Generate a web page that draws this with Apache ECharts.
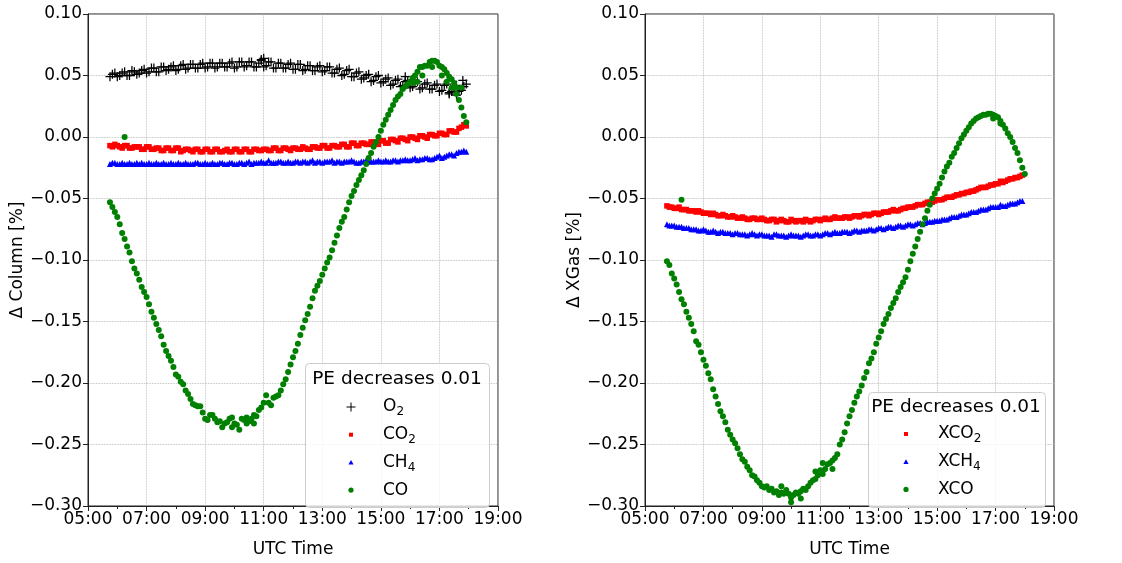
<!DOCTYPE html>
<html><head><meta charset="utf-8">
<script src="https://cdn.jsdelivr.net/npm/echarts@6/dist/echarts.min.js"></script>
<style>html,body{margin:0;padding:0;background:#fff}#c{width:1122px;height:563px}</style>
</head><body><div id="c"></div>
<script>
// sample times (UTC), set A: hh:45, hh:55, ... every 10 min
const timesA = [
 '05:45','05:55','06:05','06:15','06:25','06:35',
 '06:45','06:55','07:05','07:15','07:25','07:35',
 '07:45','07:55','08:05','08:15','08:25','08:35',
 '08:45','08:55','09:05','09:15','09:25','09:35',
 '09:45','09:55','10:05','10:15','10:25','10:35',
 '10:45','10:55','11:05','11:15','11:25','11:35',
 '11:45','11:55','12:05','12:15','12:25','12:35',
 '12:45','12:55','13:05','13:15','13:25','13:35',
 '13:45','13:55','14:05','14:15','14:25','14:35',
 '14:45','14:55','15:05','15:15','15:25','15:35',
 '15:45','15:55','16:05','16:15','16:25','16:35',
 '16:45','16:55','17:05','17:15','17:25','17:35',
 '17:45','17:55'];
// set B: hh:50, hh:00, ... every 10 min
const timesB = [
 '05:50','06:00','06:10','06:20','06:30','06:40',
 '06:50','07:00','07:10','07:20','07:30','07:40',
 '07:50','08:00','08:10','08:20','08:30','08:40',
 '08:50','09:00','09:10','09:20','09:30','09:40',
 '09:50','10:00','10:10','10:20','10:30','10:40',
 '10:50','11:00','11:10','11:20','11:30','11:40',
 '11:50','12:00','12:10','12:20','12:30','12:40',
 '12:50','13:00','13:10','13:20','13:30','13:40',
 '13:50','14:00','14:10','14:20','14:30','14:40',
 '14:50','15:00','15:10','15:20','15:30','15:40',
 '15:50','16:00','16:10','16:20','16:30','16:40',
 '16:50','17:00','17:10','17:20','17:30','17:40',
 '17:50'];

// ---------- Left panel: Δ Column [%] ----------
const o2A = [
 0.049,0.052,0.050,0.053,0.050,0.053,
 0.052,0.055,0.053,0.056,0.053,0.057,
 0.055,0.058,0.055,0.059,0.056,0.059,
 0.056,0.060,0.057,0.060,0.057,0.060,
 0.057,0.061,0.057,0.061,0.058,0.061,
 0.057,0.062,0.058,0.061,0.056,0.060,
 0.056,0.060,0.055,0.059,0.055,0.058,
 0.054,0.058,0.054,0.057,0.052,0.056,
 0.051,0.055,0.049,0.053,0.048,0.051,
 0.046,0.050,0.045,0.048,0.043,0.047,
 0.042,0.046,0.041,0.045,0.040,0.044,
 0.039,0.043,0.038,0.043,0.037,0.042,
 0.038,0.043];
const o2B = [
 0.051,0.049,0.052,0.050,0.054,0.051,
 0.054,0.052,0.056,0.053,0.057,0.054,
 0.057,0.054,0.058,0.055,0.059,0.056,
 0.059,0.056,0.060,0.056,0.060,0.057,
 0.060,0.056,0.061,0.057,0.061,0.057,
 0.060,0.057,0.061,0.056,0.060,0.056,
 0.059,0.055,0.059,0.054,0.058,0.054,
 0.057,0.053,0.057,0.052,0.055,0.050,
 0.054,0.049,0.052,0.047,0.050,0.045,
 0.049,0.044,0.047,0.042,0.046,0.041,
 0.045,0.040,0.044,0.039,0.043,0.039,
 0.042,0.037,0.042,0.036,0.041,0.037,
 0.041];
const o2ExtraT = ['10:55','11:00','15:50','17:20','17:35','17:48'];
const o2ExtraV = [0.063,0.064,0.049,0.035,0.034,0.046];

const co2A = [
 -0.007,-0.006,-0.008,-0.007,-0.009,-0.008,
 -0.008,-0.010,-0.008,-0.010,-0.009,-0.011,
 -0.009,-0.011,-0.009,-0.011,-0.010,-0.012,
 -0.010,-0.012,-0.010,-0.012,-0.010,-0.012,
 -0.010,-0.012,-0.010,-0.012,-0.010,-0.012,
 -0.010,-0.011,-0.010,-0.011,-0.009,-0.011,
 -0.009,-0.011,-0.009,-0.010,-0.009,-0.010,
 -0.008,-0.009,-0.007,-0.009,-0.007,-0.008,
 -0.006,-0.008,-0.005,-0.007,-0.005,-0.006,
 -0.004,-0.006,-0.003,-0.005,-0.002,-0.004,
 -0.001,-0.003,0.000,-0.002,0.001,-0.001,
 0.002,0.001,0.003,0.002,0.005,0.004,
 0.008,0.009];
const co2B = [
 -0.008,-0.007,-0.009,-0.007,-0.009,-0.008,
 -0.010,-0.008,-0.010,-0.009,-0.011,-0.009,
 -0.011,-0.009,-0.012,-0.010,-0.011,-0.010,
 -0.012,-0.010,-0.012,-0.010,-0.012,-0.011,
 -0.012,-0.010,-0.012,-0.010,-0.012,-0.010,
 -0.011,-0.010,-0.011,-0.009,-0.011,-0.009,
 -0.010,-0.009,-0.010,-0.008,-0.010,-0.008,
 -0.009,-0.007,-0.009,-0.007,-0.008,-0.006,
 -0.008,-0.005,-0.007,-0.005,-0.006,-0.004,
 -0.005,-0.003,-0.005,-0.002,-0.003,-0.001,
 -0.002,0.000,-0.001,0.001,0.000,0.002,
 0.001,0.003,0.002,0.005,0.004,0.007,
 0.010];

const ch4A = [
 -0.022,-0.021,-0.022,-0.022,-0.021,-0.022,
 -0.022,-0.022,-0.021,-0.022,-0.022,-0.021,
 -0.022,-0.022,-0.021,-0.022,-0.022,-0.022,
 -0.021,-0.022,-0.022,-0.021,-0.022,-0.021,
 -0.022,-0.021,-0.022,-0.021,-0.021,-0.022,
 -0.021,-0.020,-0.021,-0.021,-0.021,-0.020,
 -0.021,-0.021,-0.020,-0.021,-0.020,-0.020,
 -0.021,-0.020,-0.020,-0.020,-0.021,-0.020,
 -0.020,-0.020,-0.020,-0.021,-0.020,-0.020,
 -0.020,-0.019,-0.020,-0.020,-0.019,-0.020,
 -0.019,-0.019,-0.018,-0.019,-0.018,-0.017,
 -0.018,-0.016,-0.017,-0.015,-0.014,-0.013,
 -0.012,-0.012];
const ch4B = [
 -0.021,-0.022,-0.021,-0.022,-0.022,-0.021,
 -0.021,-0.022,-0.022,-0.021,-0.022,-0.022,
 -0.021,-0.022,-0.022,-0.021,-0.022,-0.021,
 -0.022,-0.021,-0.022,-0.022,-0.021,-0.022,
 -0.021,-0.022,-0.021,-0.022,-0.020,-0.021,
 -0.021,-0.021,-0.019,-0.021,-0.020,-0.021,
 -0.020,-0.021,-0.020,-0.020,-0.021,-0.019,
 -0.020,-0.021,-0.020,-0.019,-0.020,-0.021,
 -0.020,-0.019,-0.021,-0.020,-0.019,-0.020,
 -0.020,-0.020,-0.019,-0.020,-0.019,-0.019,
 -0.018,-0.019,-0.017,-0.018,-0.017,-0.018,
 -0.017,-0.015,-0.016,-0.014,-0.015,-0.012,
 -0.011];

const coA = [
 -0.053,-0.061,-0.071,-0.083,-0.094,-0.107,
 -0.116,-0.126,-0.136,-0.147,-0.157,-0.169,
 -0.178,-0.187,-0.195,-0.201,-0.209,-0.217,
 -0.219,-0.224,-0.230,-0.226,-0.232,-0.236,
 -0.232,-0.228,-0.234,-0.229,-0.233,-0.229,
 -0.227,-0.220,-0.210,-0.218,-0.211,-0.206,
 -0.197,-0.185,-0.174,-0.161,-0.149,-0.138,
 -0.125,-0.117,-0.107,-0.098,-0.086,-0.074,
 -0.065,-0.053,-0.044,-0.035,-0.027,-0.017,
 -0.008,0.000,0.010,0.018,0.026,0.033,
 0.039,0.043,0.048,0.053,0.057,0.058,
 0.062,0.061,0.057,0.052,0.047,0.040,
 0.024,0.012];
const coB = [
 -0.057,-0.065,-0.078,-0.089,-0.101,-0.111,
 -0.122,-0.130,-0.142,-0.152,-0.162,-0.174,
 -0.182,-0.193,-0.199,-0.206,-0.213,-0.218,
 -0.219,-0.229,-0.226,-0.229,-0.231,-0.233,
 -0.229,-0.233,-0.238,-0.230,-0.231,-0.226,
 -0.222,-0.216,-0.216,-0.212,-0.210,-0.201,
 -0.191,-0.179,-0.168,-0.155,-0.144,-0.131,
 -0.121,-0.112,-0.102,-0.092,-0.080,-0.069,
 -0.059,-0.048,-0.039,-0.031,-0.022,-0.013,
 -0.004,0.005,0.014,0.022,0.030,0.035,
 0.041,0.045,0.050,0.057,0.058,0.061,
 0.062,0.058,0.055,0.049,0.044,0.030,
 0.017];
const coExtraT = ['06:15','09:55','10:25','10:40','16:05','16:15','16:25','16:45','17:05','17:15','17:25','17:35','17:45'];
const coExtraV = [0.000,-0.236,-0.228,-0.233,0.044,0.045,0.050,0.057,0.050,0.045,0.040,0.035,0.040];

// ---------- Right panel: Δ XGas [%] ----------
const xco2A = [
 -0.056,-0.057,-0.058,-0.059,-0.059,-0.060,
 -0.061,-0.061,-0.062,-0.063,-0.063,-0.064,
 -0.064,-0.065,-0.065,-0.066,-0.066,-0.067,
 -0.066,-0.067,-0.067,-0.068,-0.067,-0.068,
 -0.068,-0.069,-0.068,-0.068,-0.069,-0.068,
 -0.068,-0.067,-0.067,-0.067,-0.066,-0.066,
 -0.066,-0.065,-0.065,-0.064,-0.064,-0.063,
 -0.063,-0.062,-0.062,-0.061,-0.060,-0.060,
 -0.059,-0.058,-0.057,-0.056,-0.055,-0.054,
 -0.053,-0.052,-0.051,-0.050,-0.049,-0.048,
 -0.047,-0.046,-0.045,-0.044,-0.042,-0.041,
 -0.040,-0.039,-0.038,-0.037,-0.035,-0.034,
 -0.033,-0.031];
const xco2B = [
 -0.057,-0.058,-0.057,-0.059,-0.060,-0.060,
 -0.060,-0.062,-0.062,-0.062,-0.064,-0.063,
 -0.065,-0.064,-0.066,-0.065,-0.067,-0.066,
 -0.067,-0.066,-0.068,-0.067,-0.069,-0.067,
 -0.069,-0.067,-0.069,-0.068,-0.067,-0.069,
 -0.067,-0.068,-0.066,-0.067,-0.065,-0.066,
 -0.065,-0.066,-0.064,-0.065,-0.063,-0.064,
 -0.062,-0.063,-0.061,-0.061,-0.059,-0.060,
 -0.058,-0.057,-0.057,-0.055,-0.055,-0.053,
 -0.053,-0.051,-0.051,-0.049,-0.049,-0.047,
 -0.046,-0.045,-0.044,-0.043,-0.041,-0.041,
 -0.039,-0.038,-0.036,-0.036,-0.034,-0.033,
 -0.032];

const xch4A = [
 -0.071,-0.072,-0.073,-0.073,-0.074,-0.075,
 -0.075,-0.076,-0.076,-0.077,-0.077,-0.077,
 -0.078,-0.078,-0.078,-0.079,-0.079,-0.079,
 -0.079,-0.079,-0.080,-0.080,-0.079,-0.080,
 -0.080,-0.080,-0.080,-0.080,-0.080,-0.079,
 -0.080,-0.079,-0.079,-0.078,-0.078,-0.078,
 -0.077,-0.077,-0.077,-0.076,-0.076,-0.076,
 -0.075,-0.075,-0.074,-0.074,-0.073,-0.073,
 -0.072,-0.072,-0.071,-0.071,-0.070,-0.070,
 -0.069,-0.068,-0.068,-0.067,-0.066,-0.065,
 -0.064,-0.063,-0.062,-0.061,-0.060,-0.059,
 -0.058,-0.057,-0.057,-0.056,-0.055,-0.054,
 -0.053,-0.052];
const xch4B = [
 -0.072,-0.072,-0.073,-0.074,-0.074,-0.075,
 -0.076,-0.075,-0.077,-0.076,-0.078,-0.077,
 -0.078,-0.079,-0.078,-0.079,-0.080,-0.078,
 -0.080,-0.079,-0.080,-0.081,-0.079,-0.080,
 -0.081,-0.079,-0.080,-0.081,-0.079,-0.080,
 -0.079,-0.080,-0.078,-0.079,-0.077,-0.078,
 -0.077,-0.078,-0.076,-0.077,-0.076,-0.075,
 -0.076,-0.074,-0.075,-0.073,-0.074,-0.072,
 -0.073,-0.071,-0.072,-0.070,-0.071,-0.069,
 -0.069,-0.068,-0.067,-0.067,-0.065,-0.065,
 -0.063,-0.063,-0.061,-0.061,-0.059,-0.059,
 -0.057,-0.057,-0.055,-0.056,-0.054,-0.054,
 -0.052];

const xcoA = [
 -0.101,-0.111,-0.120,-0.132,-0.142,-0.152,
 -0.166,-0.175,-0.186,-0.197,-0.211,-0.223,
 -0.232,-0.242,-0.249,-0.258,-0.264,-0.271,
 -0.276,-0.281,-0.285,-0.287,-0.289,-0.291,
 -0.290,-0.290,-0.291,-0.290,-0.286,-0.284,
 -0.279,-0.275,-0.274,-0.266,-0.263,-0.258,
 -0.246,-0.233,-0.222,-0.211,-0.202,-0.191,
 -0.180,-0.168,-0.158,-0.148,-0.139,-0.131,
 -0.122,-0.114,-0.101,-0.089,-0.077,-0.066,
 -0.055,-0.046,-0.038,-0.028,-0.021,-0.013,
 -0.005,0.002,0.008,0.013,0.016,0.018,
 0.019,0.018,0.016,0.010,0.003,-0.004,
 -0.013,-0.025];
const xcoB = [
 -0.104,-0.115,-0.126,-0.136,-0.147,-0.158,
 -0.169,-0.181,-0.192,-0.205,-0.217,-0.227,
 -0.238,-0.246,-0.253,-0.262,-0.268,-0.275,
 -0.279,-0.284,-0.284,-0.286,-0.288,-0.289,
 -0.287,-0.293,-0.289,-0.288,-0.287,-0.281,
 -0.278,-0.271,-0.270,-0.265,-0.261,-0.250,
 -0.240,-0.227,-0.216,-0.207,-0.196,-0.184,
 -0.175,-0.163,-0.152,-0.144,-0.135,-0.126,
 -0.118,-0.108,-0.095,-0.083,-0.071,-0.060,
 -0.050,-0.042,-0.033,-0.024,-0.016,-0.009,
 -0.001,0.005,0.011,0.015,0.017,0.018,
 0.019,0.017,0.013,0.007,0.000,-0.009,
 -0.019];
const xcoExtraT = ['06:15','09:40','10:00','10:20','10:50','11:05','11:25','16:55','17:10','18:00'];
const xcoExtraV = [-0.051,-0.284,-0.297,-0.294,-0.272,-0.265,-0.270,0.015,0.011,-0.030];

const xTickLabels = ['05:00','07:00','09:00','11:00','13:00','15:00','17:00','19:00'];
const legendTitle = 'PE decreases 0.01';

const H = s => +s.slice(0, 2) + (+s.slice(3)) / 60;
const pts = (ts, vs) => ts.map((t, i) => [H(t), vs[i]]);

const FONT = 'DejaVu Sans';
const plusPath = 'path://M4.3,0h1.4v4.3h4.3v1.4h-4.3v4.3h-1.4v-4.3h-4.3v-1.4h4.3z';
const plusLegend = 'path://M0,0M10,10M4.5,0.5h1v4h4v1h-4v4h-1v-4h-4v-1h4z';
const sqLegend = 'path://M0,0M10,10M3,3h4v4h-4z';
const triLegend = 'path://M0,0M10,10M5,2.6L7.6,7.2L2.4,7.2z';
const cirLegend = 'path://M0,0M10,10M7.6,5A2.6,2.6 0 1 1 2.4,5A2.6,2.6 0 1 1 7.6,5z';

function xAx(idx) {
  return {
    type: 'value', gridIndex: idx, min: 5, max: 19, interval: 2,
    name: 'UTC Time', nameLocation: 'middle', nameGap: 35,
    nameTextStyle: {fontFamily: FONT, fontSize: 17, color: '#000'},
    axisLine: {show: true, onZero: false, lineStyle: {color: '#222', width: 1}},
    axisTick: {show: true, length: 5, lineStyle: {color: '#222'}},
    minorTick: {show: true, splitNumber: 2, length: 3, lineStyle: {color: '#222'}},
    axisLabel: {fontFamily: FONT, fontSize: 17, color: '#000', margin: 5,
      formatter: v => xTickLabels[Math.round((v - 5) / 2)]},
    splitLine: {show: true, lineStyle: {color: '#b0b0b0', type: 'dotted', width: 0.8}}
  };
}
function yAx(idx, name) {
  return {
    type: 'value', gridIndex: idx, min: -0.30, max: 0.10, interval: 0.05,
    name: name, nameLocation: 'middle', nameGap: 58,
    nameTextStyle: {fontFamily: FONT, fontSize: 17, color: '#000'},
    axisLine: {show: true, onZero: false, lineStyle: {color: '#222', width: 1}},
    axisTick: {show: true, length: 5, lineStyle: {color: '#222'}},
    axisLabel: {fontFamily: FONT, fontSize: 17, color: '#000', margin: 6,
      formatter: v => (v < -1e-9 ? '\u2212' : '') + Math.abs(v).toFixed(2)},
    splitLine: {show: true, lineStyle: {color: '#b0b0b0', type: 'dotted', width: 0.8}}
  };
}
function sc(name, idx, data, symbol, size, color) {
  return {type: 'scatter', name, xAxisIndex: idx, yAxisIndex: idx, data,
    symbol, symbolSize: size, itemStyle: {color, opacity: 1}, silent: true};
}
const legendText = {
  fontFamily: FONT, fontSize: 17, color: '#000', lineHeight: 22,
  rich: {s: {fontFamily: FONT, fontSize: 12, color: '#000', lineHeight: 12, verticalAlign: 'bottom'}}
};
const legendFmt = n => n.replace(/(\d)/g, '{s|$1}');

const option = {
  animation: false,
  backgroundColor: '#fff',
  grid: [
    {left: 88, top: 14, width: 410, height: 502, show: true, borderColor: '#222', borderWidth: 1},
    {left: 645, top: 14, width: 409, height: 502, show: true, borderColor: '#222', borderWidth: 1}
  ],
  xAxis: [xAx(0), xAx(1)],
  yAxis: [yAx(0, '\u0394 Column [%]'), yAx(1, '\u0394 XGas [%]')],
  series: [
    sc('O2', 0, pts(timesA, o2A).concat(pts(timesB, o2B), pts(o2ExtraT, o2ExtraV)), plusPath, 9, '#000'),
    sc('CO2', 0, pts(timesA, co2A).concat(pts(timesB, co2B)), 'rect', 5.5, '#ff0000'),
    sc('CH4', 0, pts(timesA, ch4A).concat(pts(timesB, ch4B)), 'triangle', 6, '#0000ff'),
    sc('CO', 0, pts(timesA, coA).concat(pts(timesB, coB), pts(coExtraT, coExtraV)), 'circle', 6, '#008000'),
    sc('XCO2', 1, pts(timesA, xco2A).concat(pts(timesB, xco2B)), 'rect', 5.5, '#ff0000'),
    sc('XCH4', 1, pts(timesA, xch4A).concat(pts(timesB, xch4B)), 'triangle', 6, '#0000ff'),
    sc('XCO', 1, pts(timesA, xcoA).concat(pts(timesB, xcoB), pts(xcoExtraT, xcoExtraV)), 'circle', 6, '#008000')
  ],
  legend: [
    {orient: 'vertical', left: 346, top: 396, padding: 0, itemGap: 5.7, itemWidth: 54, itemHeight: 10,
     selectedMode: false, z: 30, textStyle: legendText, formatter: legendFmt,
     data: [{name: 'O2', icon: plusLegend}, {name: 'CO2', icon: sqLegend}, {name: 'CH4', icon: triLegend}, {name: 'CO', icon: cirLegend}]},
    {orient: 'vertical', left: 901, top: 423, padding: 0, itemGap: 5.7, itemWidth: 54, itemHeight: 10,
     selectedMode: false, z: 30, textStyle: legendText, formatter: legendFmt,
     data: [{name: 'XCO2', icon: sqLegend}, {name: 'XCH4', icon: triLegend}, {name: 'XCO', icon: cirLegend}]}
  ],
  graphic: [
    {type: 'rect', z: 20, shape: {x: 305.5, y: 363.5, width: 184, height: 144, r: 4},
     style: {fill: 'rgba(255,255,255,0.8)', stroke: '#cccccc', lineWidth: 1}},
    {type: 'text', z: 21, x: 397, y: 379,
     style: {text: legendTitle, fontFamily: FONT, fontSize: 18.5, fill: '#000', align: 'center', verticalAlign: 'middle'}},
    {type: 'rect', z: 20, shape: {x: 868.5, y: 392.5, width: 177, height: 115, r: 4},
     style: {fill: 'rgba(255,255,255,0.8)', stroke: '#cccccc', lineWidth: 1}},
    {type: 'text', z: 21, x: 956, y: 407,
     style: {text: legendTitle, fontFamily: FONT, fontSize: 18.5, fill: '#000', align: 'center', verticalAlign: 'middle'}}
  ]
};
const chart = echarts.init(document.getElementById('c'), null, {renderer: 'canvas'});
chart.setOption(option);
</script></body></html>
